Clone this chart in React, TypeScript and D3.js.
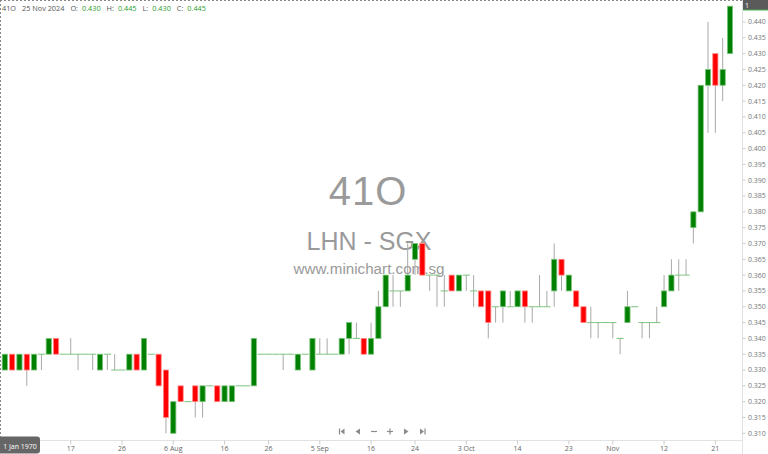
import React, { useRef, useEffect } from 'react'
import { select, scaleLinear, range, format } from 'd3'

// trading days shown, 4 Jul 2024 - 25 Nov 2024
const dates = [
    '2024-07-04', '2024-07-05', '2024-07-08', '2024-07-09', '2024-07-10', '2024-07-11', '2024-07-12',
    '2024-07-15', '2024-07-16', '2024-07-17', '2024-07-18', '2024-07-19', '2024-07-22', '2024-07-23',
    '2024-07-24', '2024-07-25', '2024-07-26', '2024-07-29', '2024-07-30', '2024-07-31',
    '2024-08-01', '2024-08-02', '2024-08-05', '2024-08-06', '2024-08-07', '2024-08-08', '2024-08-12',
    '2024-08-13', '2024-08-14', '2024-08-15', '2024-08-16', '2024-08-19', '2024-08-20', '2024-08-21',
    '2024-08-22', '2024-08-23', '2024-08-26', '2024-08-27', '2024-08-28', '2024-08-29',
    '2024-09-02', '2024-09-03', '2024-09-04', '2024-09-05', '2024-09-06', '2024-09-09', '2024-09-10',
    '2024-09-11', '2024-09-12', '2024-09-13', '2024-09-16', '2024-09-17', '2024-09-18', '2024-09-19',
    '2024-09-20', '2024-09-23', '2024-09-24', '2024-09-25', '2024-09-26', '2024-09-27', '2024-09-30',
    '2024-10-01', '2024-10-02', '2024-10-03', '2024-10-04', '2024-10-07', '2024-10-08', '2024-10-09',
    '2024-10-10', '2024-10-11', '2024-10-14', '2024-10-15', '2024-10-16', '2024-10-17', '2024-10-18',
    '2024-10-21', '2024-10-22', '2024-10-23', '2024-10-24', '2024-10-25', '2024-10-28', '2024-10-29',
    '2024-10-30',
    '2024-11-01', '2024-11-04', '2024-11-05', '2024-11-06', '2024-11-07', '2024-11-08', '2024-11-11',
    '2024-11-12', '2024-11-13', '2024-11-14', '2024-11-15', '2024-11-18', '2024-11-19', '2024-11-20',
    '2024-11-21', '2024-11-22', '2024-11-25',
]

const opens = [
    0.330, 0.335, 0.330, 0.335, 0.330, 0.335, 0.335, 0.340, 0.335, 0.335,
    0.335, 0.335, 0.335, 0.330, 0.335, 0.330, 0.330, 0.330, 0.335, 0.330,
    0.335, 0.335, 0.330, 0.310, 0.325, 0.320, 0.325, 0.320, 0.325, 0.325,
    0.320, 0.320, 0.325, 0.325, 0.325, 0.335, 0.335, 0.335, 0.335, 0.335,
    0.330, 0.335, 0.330, 0.335, 0.335, 0.335, 0.335, 0.340, 0.340, 0.340,
    0.335, 0.340, 0.350, 0.355, 0.355, 0.355, 0.365, 0.370, 0.360, 0.360,
    0.355, 0.360, 0.355, 0.360, 0.355, 0.355, 0.355, 0.350, 0.350, 0.350,
    0.350, 0.355, 0.350, 0.350, 0.350, 0.355, 0.365, 0.355, 0.355, 0.350,
    0.345, 0.345, 0.345, 0.345, 0.340, 0.345, 0.350, 0.345, 0.345, 0.345,
    0.350, 0.355, 0.360, 0.360, 0.375, 0.380, 0.420, 0.430, 0.420, 0.430,
]
const highs = [
    0.335, 0.335, 0.335, 0.335, 0.335, 0.335, 0.340, 0.340, 0.335, 0.340,
    0.335, 0.335, 0.335, 0.335, 0.335, 0.335, 0.330, 0.335, 0.335, 0.340,
    0.335, 0.335, 0.330, 0.320, 0.325, 0.320, 0.325, 0.325, 0.325, 0.325,
    0.325, 0.325, 0.325, 0.325, 0.340, 0.335, 0.335, 0.335, 0.335, 0.335,
    0.335, 0.335, 0.340, 0.340, 0.340, 0.335, 0.340, 0.345, 0.345, 0.340,
    0.345, 0.355, 0.360, 0.360, 0.355, 0.370, 0.370, 0.370, 0.360, 0.360,
    0.360, 0.360, 0.360, 0.360, 0.360, 0.355, 0.355, 0.350, 0.355, 0.355,
    0.355, 0.355, 0.350, 0.360, 0.355, 0.370, 0.365, 0.360, 0.355, 0.350,
    0.350, 0.345, 0.345, 0.345, 0.340, 0.355, 0.350, 0.345, 0.345, 0.350,
    0.360, 0.365, 0.365, 0.365, 0.380, 0.420, 0.440, 0.430, 0.435, 0.445,
]
const lows = [
    0.330, 0.330, 0.330, 0.325, 0.330, 0.330, 0.335, 0.335, 0.335, 0.335,
    0.330, 0.335, 0.330, 0.330, 0.330, 0.330, 0.330, 0.330, 0.330, 0.330,
    0.335, 0.325, 0.310, 0.310, 0.320, 0.320, 0.315, 0.315, 0.325, 0.320,
    0.320, 0.320, 0.325, 0.325, 0.325, 0.335, 0.335, 0.335, 0.330, 0.335,
    0.330, 0.335, 0.330, 0.335, 0.335, 0.335, 0.335, 0.335, 0.340, 0.335,
    0.335, 0.340, 0.350, 0.350, 0.350, 0.355, 0.360, 0.360, 0.355, 0.350,
    0.350, 0.355, 0.355, 0.355, 0.350, 0.350, 0.340, 0.345, 0.345, 0.350,
    0.350, 0.345, 0.345, 0.350, 0.350, 0.350, 0.355, 0.355, 0.350, 0.345,
    0.340, 0.340, 0.345, 0.340, 0.335, 0.345, 0.350, 0.340, 0.340, 0.345,
    0.350, 0.355, 0.355, 0.360, 0.370, 0.380, 0.405, 0.405, 0.415, 0.430,
]
const closes = [
    0.335, 0.330, 0.335, 0.330, 0.335, 0.335, 0.340, 0.335, 0.335, 0.335,
    0.335, 0.335, 0.335, 0.335, 0.335, 0.330, 0.330, 0.335, 0.330, 0.340,
    0.335, 0.325, 0.315, 0.320, 0.320, 0.320, 0.320, 0.325, 0.325, 0.320,
    0.325, 0.325, 0.325, 0.325, 0.340, 0.335, 0.335, 0.335, 0.335, 0.335,
    0.335, 0.335, 0.340, 0.335, 0.335, 0.335, 0.340, 0.345, 0.340, 0.335,
    0.340, 0.350, 0.360, 0.355, 0.355, 0.360, 0.370, 0.360, 0.360, 0.360,
    0.355, 0.355, 0.360, 0.360, 0.355, 0.350, 0.345, 0.350, 0.355, 0.350,
    0.355, 0.350, 0.350, 0.350, 0.350, 0.365, 0.360, 0.360, 0.350, 0.345,
    0.345, 0.345, 0.345, 0.345, 0.340, 0.350, 0.350, 0.345, 0.345, 0.345,
    0.355, 0.360, 0.360, 0.360, 0.380, 0.420, 0.425, 0.420, 0.425, 0.445,
]

const xTickDates = [
    '2024-07-17', '2024-07-26', '2024-08-06', '2024-08-16', '2024-08-26', '2024-09-05', '2024-09-16',
    '2024-09-24', '2024-10-03', '2024-10-14', '2024-10-23', '2024-11-01', '2024-11-12', '2024-11-21',
]
const xTickLabels = ['17', '26', '6 Aug', '16', '26', '5 Sep', '16', '24', '3 Oct', '14', '23', 'Nov', '12', '21']

const headerItems = [
    ['41O', '#555'], ['25 Nov 2024', '#555'], ['O:', '#555'], ['0.430', '#2e9e2e'], ['H:', '#555'],
    ['0.445', '#2e9e2e'], ['L:', '#555'], ['0.430', '#2e9e2e'], ['C:', '#555'], ['0.445', '#2e9e2e'],
]

const W = 768
const H = 454
const plotRight = 742.5
const axisY = 440.5
const UI_FONT = '"Open Sans", "Noto Sans", sans-serif'

const App = () => {
    const ref = useRef<any>()

    useEffect(() => {
        const svg = select(ref.current)
        svg.selectAll('*').remove()

        const data = dates.map((d, i) => ({
            date: d, i, open: opens[i], high: highs[i], low: lows[i], close: closes[i],
        }))

        const x = scaleLinear().domain([0, data.length - 1]).range([4.8, 730])
        const y = scaleLinear().domain([0.31, 0.44]).range([433.3, 22])

        // watermark
        const wm = svg.append('g').attr('fill', '#9a9a9a').attr('font-family', '"Liberation Sans", Arial, sans-serif')
            .attr('text-anchor', 'middle')
        wm.append('text').attr('x', 368).attr('y', 205).attr('font-size', 40).attr('letter-spacing', 1).text('41O')
        wm.append('text').attr('x', 369).attr('y', 250).attr('font-size', 25).text('LHN - SGX')
        wm.append('text').attr('x', 369).attr('y', 273.5).attr('font-size', 15.2).text('www.minichart.com.sg')

        // frame
        svg.append('line').attr('x1', 0).attr('x2', plotRight).attr('y1', 0.5).attr('y2', 0.5)
            .attr('stroke', '#888').attr('stroke-dasharray', '2,2')
        svg.append('line').attr('x1', 0.5).attr('x2', 0.5).attr('y1', 0).attr('y2', axisY)
            .attr('stroke', '#888').attr('stroke-dasharray', '2,2')
        svg.append('line').attr('x1', plotRight).attr('x2', plotRight).attr('y1', 0).attr('y2', H)
            .attr('stroke', '#e2e2e2')
        svg.append('line').attr('x1', 0).attr('x2', plotRight).attr('y1', axisY).attr('y2', axisY)
            .attr('stroke', '#e2e2e2')

        // y axis
        const yTicks = range(62, 89).map(v => v * 0.005)
        const yAxis = svg.append('g').attr('font-family', UI_FONT).attr('font-size', 7).attr('fill', '#777')
        yAxis.selectAll('line').data(yTicks).join('line')
            .attr('x1', plotRight).attr('x2', plotRight + 3)
            .attr('y1', v => y(v)).attr('y2', v => y(v)).attr('stroke', '#ccc')
        yAxis.selectAll('text').data(yTicks).join('text')
            .attr('x', 748).attr('y', v => y(v)).attr('dy', '0.35em')
            .text(v => format('.3f')(v))

        // x axis
        const xAxis = svg.append('g').attr('font-family', UI_FONT).attr('font-size', 7).attr('fill', '#666')
            .attr('text-anchor', 'middle')
        xAxis.selectAll('line').data(xTickDates).join('line')
            .attr('x1', d => x(dates.indexOf(d))).attr('x2', d => x(dates.indexOf(d)))
            .attr('y1', axisY).attr('y2', axisY + 4).attr('stroke', '#ccc')
        xAxis.selectAll('text').data(xTickDates).join('text')
            .attr('x', d => x(dates.indexOf(d))).attr('y', 451)
            .text((d, k) => xTickLabels[k])

        // candles
        const candles = svg.append('g')
        const g = candles.selectAll('g').data(data).join('g')
        g.filter(d => d.high > d.low)
            .append('line')
            .attr('x1', d => x(d.i)).attr('x2', d => x(d.i))
            .attr('y1', d => y(d.high)).attr('y2', d => y(d.low))
            .attr('stroke', '#a8a8a8').attr('stroke-width', 1)
        g.filter(d => d.open !== d.close)
            .append('rect')
            .attr('x', d => x(d.i) - 2.6)
            .attr('width', 5.2)
            .attr('y', d => y(Math.max(d.open, d.close)))
            .attr('height', d => Math.abs(y(d.open) - y(d.close)))
            .attr('fill', d => d.close > d.open ? '#008000' : '#ff0000')
            .attr('stroke', d => d.close > d.open ? '#7cc47c' : '#ff8a8a')
            .attr('stroke-width', 0.8)
        g.filter(d => d.open === d.close)
            .append('line')
            .attr('x1', d => x(d.i) - 3.6).attr('x2', d => x(d.i) + 3.6)
            .attr('y1', d => y(d.close)).attr('y2', d => y(d.close))
            .attr('stroke', '#7cc47c').attr('stroke-width', 1)

        // header
        const header = svg.append('text').attr('x', 2).attr('y', 11)
            .attr('font-family', UI_FONT).attr('font-size', 7.3)
        header.selectAll('tspan').data(headerItems).join('tspan')
            .attr('dx', (d, k) => k === 0 ? 0 : (k === 1 || k % 2 === 0 ? 6 : 4))
            .attr('fill', d => d[1]).text(d => d[0])

        // last price tag
        svg.append('rect').attr('x', 743).attr('y', -3).attr('width', 25).attr('height', 13)
            .attr('fill', '#5a5a5a')
        svg.append('line').attr('x1', 743).attr('x2', 768).attr('y1', 10).attr('y2', 10)
            .attr('stroke', '#4caf50').attr('stroke-width', 1)
        svg.append('text').attr('x', 745).attr('y', 7.5).attr('font-family', UI_FONT)
            .attr('font-size', 7).attr('fill', '#fff').text('1')

        // crosshair date tag
        svg.append('rect').attr('x', -4).attr('y', 436.5).attr('width', 44).attr('height', 17).attr('rx', 3)
            .attr('fill', '#666')
        svg.append('text').attr('x', 20).attr('y', 448.5).attr('text-anchor', 'middle')
            .attr('font-family', UI_FONT).attr('font-size', 7).attr('fill', '#fff').text('1 Jan 1970')

        // navigation buttons
        const nav = svg.append('g').attr('fill', '#8a8a8a').attr('stroke', '#8a8a8a')
        const cy = 431.5
        nav.append('line').attr('x1', 339.5).attr('x2', 339.5).attr('y1', cy - 3).attr('y2', cy + 3).attr('stroke-width', 1.2)
        nav.append('path').attr('d', `M340.5,${cy} L344.5,${cy - 3} L344.5,${cy + 3} Z`).attr('stroke', 'none')
        nav.append('path').attr('d', `M355.5,${cy} L360,${cy - 3} L360,${cy + 3} Z`).attr('stroke', 'none')
        nav.append('line').attr('x1', 371).attr('x2', 377).attr('y1', cy).attr('y2', cy).attr('stroke-width', 1.2)
        nav.append('line').attr('x1', 387).attr('x2', 393).attr('y1', cy).attr('y2', cy).attr('stroke-width', 1.2)
        nav.append('line').attr('x1', 390).attr('x2', 390).attr('y1', cy - 3).attr('y2', cy + 3).attr('stroke-width', 1.2)
        nav.append('path').attr('d', `M408.5,${cy} L404,${cy - 3} L404,${cy + 3} Z`).attr('stroke', 'none')
        nav.append('path').attr('d', `M424,${cy} L420,${cy - 3} L420,${cy + 3} Z`).attr('stroke', 'none')
        nav.append('line').attr('x1', 425).attr('x2', 425).attr('y1', cy - 3).attr('y2', cy + 3).attr('stroke-width', 1.2)
    }, [ref])

    return (
        <svg ref={ref} width={W} height={H}
            style={{ position: 'absolute', left: 0, top: 0, background: '#fff' }} />
    )
}

export default App
